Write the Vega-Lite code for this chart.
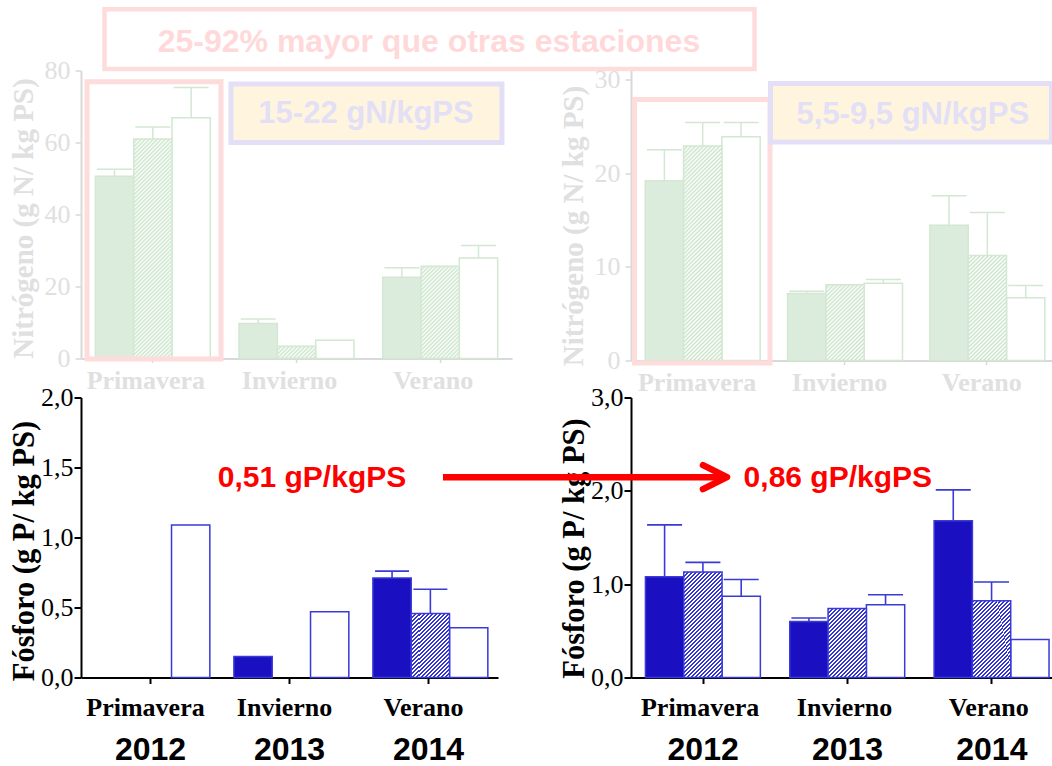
{
  "$schema": "https://vega.github.io/schema/vega-lite/v6.json",
  "autosize": {"type": "pad"},
  "padding": {"left": 8, "top": 6.5, "right": 0, "bottom": 10},
  "background": "#ffffff",
  "columns": 2,
  "align": "all",
  "bounds": "flush",
  "spacing": {"row": 37, "column": 117},
  "config": {
    "view": {"stroke": null},
    "axis": {"grid": false, "labelFont": "Liberation Serif", "labelFontSize": 26, "titleFont": "Liberation Serif", "titleFontSize": 29, "titleFontWeight": "bold"}
  },
  "params": [
    {"name": "hatchN", "value": [
      {"offset":0,"color":"#c9e3c9"},{"offset":0.00625,"color":"#ffffff"},{"offset":0.0125,"color":"#c9e3c9"},{"offset":0.01875,"color":"#ffffff"},
      {"offset":0.025,"color":"#c9e3c9"},{"offset":0.03125,"color":"#ffffff"},{"offset":0.0375,"color":"#c9e3c9"},{"offset":0.04375,"color":"#ffffff"},
      {"offset":0.05,"color":"#c9e3c9"},{"offset":0.05625,"color":"#ffffff"},{"offset":0.0625,"color":"#c9e3c9"},{"offset":0.06875,"color":"#ffffff"},
      {"offset":0.075,"color":"#c9e3c9"},{"offset":0.08125,"color":"#ffffff"},{"offset":0.0875,"color":"#c9e3c9"},{"offset":0.09375,"color":"#ffffff"},
      {"offset":0.1,"color":"#c9e3c9"},{"offset":0.10625,"color":"#ffffff"},{"offset":0.1125,"color":"#c9e3c9"},{"offset":0.11875,"color":"#ffffff"},
      {"offset":0.125,"color":"#c9e3c9"},{"offset":0.13125,"color":"#ffffff"},{"offset":0.1375,"color":"#c9e3c9"},{"offset":0.14375,"color":"#ffffff"},
      {"offset":0.15,"color":"#c9e3c9"},{"offset":0.15625,"color":"#ffffff"},{"offset":0.1625,"color":"#c9e3c9"},{"offset":0.16875,"color":"#ffffff"},
      {"offset":0.175,"color":"#c9e3c9"},{"offset":0.18125,"color":"#ffffff"},{"offset":0.1875,"color":"#c9e3c9"},{"offset":0.19375,"color":"#ffffff"},
      {"offset":0.2,"color":"#c9e3c9"},{"offset":0.20625,"color":"#ffffff"},{"offset":0.2125,"color":"#c9e3c9"},{"offset":0.21875,"color":"#ffffff"},
      {"offset":0.225,"color":"#c9e3c9"},{"offset":0.23125,"color":"#ffffff"},{"offset":0.2375,"color":"#c9e3c9"},{"offset":0.24375,"color":"#ffffff"},
      {"offset":0.25,"color":"#c9e3c9"},{"offset":0.25625,"color":"#ffffff"},{"offset":0.2625,"color":"#c9e3c9"},{"offset":0.26875,"color":"#ffffff"},
      {"offset":0.275,"color":"#c9e3c9"},{"offset":0.28125,"color":"#ffffff"},{"offset":0.2875,"color":"#c9e3c9"},{"offset":0.29375,"color":"#ffffff"},
      {"offset":0.3,"color":"#c9e3c9"},{"offset":0.30625,"color":"#ffffff"},{"offset":0.3125,"color":"#c9e3c9"},{"offset":0.31875,"color":"#ffffff"},
      {"offset":0.325,"color":"#c9e3c9"},{"offset":0.33125,"color":"#ffffff"},{"offset":0.3375,"color":"#c9e3c9"},{"offset":0.34375,"color":"#ffffff"},
      {"offset":0.35,"color":"#c9e3c9"},{"offset":0.35625,"color":"#ffffff"},{"offset":0.3625,"color":"#c9e3c9"},{"offset":0.36875,"color":"#ffffff"},
      {"offset":0.375,"color":"#c9e3c9"},{"offset":0.38125,"color":"#ffffff"},{"offset":0.3875,"color":"#c9e3c9"},{"offset":0.39375,"color":"#ffffff"},
      {"offset":0.4,"color":"#c9e3c9"},{"offset":0.40625,"color":"#ffffff"},{"offset":0.4125,"color":"#c9e3c9"},{"offset":0.41875,"color":"#ffffff"},
      {"offset":0.425,"color":"#c9e3c9"},{"offset":0.43125,"color":"#ffffff"},{"offset":0.4375,"color":"#c9e3c9"},{"offset":0.44375,"color":"#ffffff"},
      {"offset":0.45,"color":"#c9e3c9"},{"offset":0.45625,"color":"#ffffff"},{"offset":0.4625,"color":"#c9e3c9"},{"offset":0.46875,"color":"#ffffff"},
      {"offset":0.475,"color":"#c9e3c9"},{"offset":0.48125,"color":"#ffffff"},{"offset":0.4875,"color":"#c9e3c9"},{"offset":0.49375,"color":"#ffffff"},
      {"offset":0.5,"color":"#c9e3c9"},{"offset":0.50625,"color":"#ffffff"},{"offset":0.5125,"color":"#c9e3c9"},{"offset":0.51875,"color":"#ffffff"},
      {"offset":0.525,"color":"#c9e3c9"},{"offset":0.53125,"color":"#ffffff"},{"offset":0.5375,"color":"#c9e3c9"},{"offset":0.54375,"color":"#ffffff"},
      {"offset":0.55,"color":"#c9e3c9"},{"offset":0.55625,"color":"#ffffff"},{"offset":0.5625,"color":"#c9e3c9"},{"offset":0.56875,"color":"#ffffff"},
      {"offset":0.575,"color":"#c9e3c9"},{"offset":0.58125,"color":"#ffffff"},{"offset":0.5875,"color":"#c9e3c9"},{"offset":0.59375,"color":"#ffffff"},
      {"offset":0.6,"color":"#c9e3c9"},{"offset":0.60625,"color":"#ffffff"},{"offset":0.6125,"color":"#c9e3c9"},{"offset":0.61875,"color":"#ffffff"},
      {"offset":0.625,"color":"#c9e3c9"},{"offset":0.63125,"color":"#ffffff"},{"offset":0.6375,"color":"#c9e3c9"},{"offset":0.64375,"color":"#ffffff"},
      {"offset":0.65,"color":"#c9e3c9"},{"offset":0.65625,"color":"#ffffff"},{"offset":0.6625,"color":"#c9e3c9"},{"offset":0.66875,"color":"#ffffff"},
      {"offset":0.675,"color":"#c9e3c9"},{"offset":0.68125,"color":"#ffffff"},{"offset":0.6875,"color":"#c9e3c9"},{"offset":0.69375,"color":"#ffffff"},
      {"offset":0.7,"color":"#c9e3c9"},{"offset":0.70625,"color":"#ffffff"},{"offset":0.7125,"color":"#c9e3c9"},{"offset":0.71875,"color":"#ffffff"},
      {"offset":0.725,"color":"#c9e3c9"},{"offset":0.73125,"color":"#ffffff"},{"offset":0.7375,"color":"#c9e3c9"},{"offset":0.74375,"color":"#ffffff"},
      {"offset":0.75,"color":"#c9e3c9"},{"offset":0.75625,"color":"#ffffff"},{"offset":0.7625,"color":"#c9e3c9"},{"offset":0.76875,"color":"#ffffff"},
      {"offset":0.775,"color":"#c9e3c9"},{"offset":0.78125,"color":"#ffffff"},{"offset":0.7875,"color":"#c9e3c9"},{"offset":0.79375,"color":"#ffffff"},
      {"offset":0.8,"color":"#c9e3c9"},{"offset":0.80625,"color":"#ffffff"},{"offset":0.8125,"color":"#c9e3c9"},{"offset":0.81875,"color":"#ffffff"},
      {"offset":0.825,"color":"#c9e3c9"},{"offset":0.83125,"color":"#ffffff"},{"offset":0.8375,"color":"#c9e3c9"},{"offset":0.84375,"color":"#ffffff"},
      {"offset":0.85,"color":"#c9e3c9"},{"offset":0.85625,"color":"#ffffff"},{"offset":0.8625,"color":"#c9e3c9"},{"offset":0.86875,"color":"#ffffff"},
      {"offset":0.875,"color":"#c9e3c9"},{"offset":0.88125,"color":"#ffffff"},{"offset":0.8875,"color":"#c9e3c9"},{"offset":0.89375,"color":"#ffffff"},
      {"offset":0.9,"color":"#c9e3c9"},{"offset":0.90625,"color":"#ffffff"},{"offset":0.9125,"color":"#c9e3c9"},{"offset":0.91875,"color":"#ffffff"},
      {"offset":0.925,"color":"#c9e3c9"},{"offset":0.93125,"color":"#ffffff"},{"offset":0.9375,"color":"#c9e3c9"},{"offset":0.94375,"color":"#ffffff"},
      {"offset":0.95,"color":"#c9e3c9"},{"offset":0.95625,"color":"#ffffff"},{"offset":0.9625,"color":"#c9e3c9"},{"offset":0.96875,"color":"#ffffff"},
      {"offset":0.975,"color":"#c9e3c9"},{"offset":0.98125,"color":"#ffffff"},{"offset":0.9875,"color":"#c9e3c9"},{"offset":0.99375,"color":"#ffffff"},
      {"offset":1,"color":"#c9e3c9"}
    ]},
    {"name": "hatchP", "value": [
      {"offset":0,"color":"#3434d2"},{"offset":0.0125,"color":"#3434d2"},{"offset":0.0125,"color":"#ffffff"},{"offset":0.025,"color":"#ffffff"},
      {"offset":0.025,"color":"#3434d2"},{"offset":0.0375,"color":"#3434d2"},{"offset":0.0375,"color":"#ffffff"},{"offset":0.05,"color":"#ffffff"},
      {"offset":0.05,"color":"#3434d2"},{"offset":0.0625,"color":"#3434d2"},{"offset":0.0625,"color":"#ffffff"},{"offset":0.075,"color":"#ffffff"},
      {"offset":0.075,"color":"#3434d2"},{"offset":0.0875,"color":"#3434d2"},{"offset":0.0875,"color":"#ffffff"},{"offset":0.1,"color":"#ffffff"},
      {"offset":0.1,"color":"#3434d2"},{"offset":0.1125,"color":"#3434d2"},{"offset":0.1125,"color":"#ffffff"},{"offset":0.125,"color":"#ffffff"},
      {"offset":0.125,"color":"#3434d2"},{"offset":0.1375,"color":"#3434d2"},{"offset":0.1375,"color":"#ffffff"},{"offset":0.15,"color":"#ffffff"},
      {"offset":0.15,"color":"#3434d2"},{"offset":0.1625,"color":"#3434d2"},{"offset":0.1625,"color":"#ffffff"},{"offset":0.175,"color":"#ffffff"},
      {"offset":0.175,"color":"#3434d2"},{"offset":0.1875,"color":"#3434d2"},{"offset":0.1875,"color":"#ffffff"},{"offset":0.2,"color":"#ffffff"},
      {"offset":0.2,"color":"#3434d2"},{"offset":0.2125,"color":"#3434d2"},{"offset":0.2125,"color":"#ffffff"},{"offset":0.225,"color":"#ffffff"},
      {"offset":0.225,"color":"#3434d2"},{"offset":0.2375,"color":"#3434d2"},{"offset":0.2375,"color":"#ffffff"},{"offset":0.25,"color":"#ffffff"},
      {"offset":0.25,"color":"#3434d2"},{"offset":0.2625,"color":"#3434d2"},{"offset":0.2625,"color":"#ffffff"},{"offset":0.275,"color":"#ffffff"},
      {"offset":0.275,"color":"#3434d2"},{"offset":0.2875,"color":"#3434d2"},{"offset":0.2875,"color":"#ffffff"},{"offset":0.3,"color":"#ffffff"},
      {"offset":0.3,"color":"#3434d2"},{"offset":0.3125,"color":"#3434d2"},{"offset":0.3125,"color":"#ffffff"},{"offset":0.325,"color":"#ffffff"},
      {"offset":0.325,"color":"#3434d2"},{"offset":0.3375,"color":"#3434d2"},{"offset":0.3375,"color":"#ffffff"},{"offset":0.35,"color":"#ffffff"},
      {"offset":0.35,"color":"#3434d2"},{"offset":0.3625,"color":"#3434d2"},{"offset":0.3625,"color":"#ffffff"},{"offset":0.375,"color":"#ffffff"},
      {"offset":0.375,"color":"#3434d2"},{"offset":0.3875,"color":"#3434d2"},{"offset":0.3875,"color":"#ffffff"},{"offset":0.4,"color":"#ffffff"},
      {"offset":0.4,"color":"#3434d2"},{"offset":0.4125,"color":"#3434d2"},{"offset":0.4125,"color":"#ffffff"},{"offset":0.425,"color":"#ffffff"},
      {"offset":0.425,"color":"#3434d2"},{"offset":0.4375,"color":"#3434d2"},{"offset":0.4375,"color":"#ffffff"},{"offset":0.45,"color":"#ffffff"},
      {"offset":0.45,"color":"#3434d2"},{"offset":0.4625,"color":"#3434d2"},{"offset":0.4625,"color":"#ffffff"},{"offset":0.475,"color":"#ffffff"},
      {"offset":0.475,"color":"#3434d2"},{"offset":0.4875,"color":"#3434d2"},{"offset":0.4875,"color":"#ffffff"},{"offset":0.5,"color":"#ffffff"},
      {"offset":0.5,"color":"#3434d2"},{"offset":0.5125,"color":"#3434d2"},{"offset":0.5125,"color":"#ffffff"},{"offset":0.525,"color":"#ffffff"},
      {"offset":0.525,"color":"#3434d2"},{"offset":0.5375,"color":"#3434d2"},{"offset":0.5375,"color":"#ffffff"},{"offset":0.55,"color":"#ffffff"},
      {"offset":0.55,"color":"#3434d2"},{"offset":0.5625,"color":"#3434d2"},{"offset":0.5625,"color":"#ffffff"},{"offset":0.575,"color":"#ffffff"},
      {"offset":0.575,"color":"#3434d2"},{"offset":0.5875,"color":"#3434d2"},{"offset":0.5875,"color":"#ffffff"},{"offset":0.6,"color":"#ffffff"},
      {"offset":0.6,"color":"#3434d2"},{"offset":0.6125,"color":"#3434d2"},{"offset":0.6125,"color":"#ffffff"},{"offset":0.625,"color":"#ffffff"},
      {"offset":0.625,"color":"#3434d2"},{"offset":0.6375,"color":"#3434d2"},{"offset":0.6375,"color":"#ffffff"},{"offset":0.65,"color":"#ffffff"},
      {"offset":0.65,"color":"#3434d2"},{"offset":0.6625,"color":"#3434d2"},{"offset":0.6625,"color":"#ffffff"},{"offset":0.675,"color":"#ffffff"},
      {"offset":0.675,"color":"#3434d2"},{"offset":0.6875,"color":"#3434d2"},{"offset":0.6875,"color":"#ffffff"},{"offset":0.7,"color":"#ffffff"},
      {"offset":0.7,"color":"#3434d2"},{"offset":0.7125,"color":"#3434d2"},{"offset":0.7125,"color":"#ffffff"},{"offset":0.725,"color":"#ffffff"},
      {"offset":0.725,"color":"#3434d2"},{"offset":0.7375,"color":"#3434d2"},{"offset":0.7375,"color":"#ffffff"},{"offset":0.75,"color":"#ffffff"},
      {"offset":0.75,"color":"#3434d2"},{"offset":0.7625,"color":"#3434d2"},{"offset":0.7625,"color":"#ffffff"},{"offset":0.775,"color":"#ffffff"},
      {"offset":0.775,"color":"#3434d2"},{"offset":0.7875,"color":"#3434d2"},{"offset":0.7875,"color":"#ffffff"},{"offset":0.8,"color":"#ffffff"},
      {"offset":0.8,"color":"#3434d2"},{"offset":0.8125,"color":"#3434d2"},{"offset":0.8125,"color":"#ffffff"},{"offset":0.825,"color":"#ffffff"},
      {"offset":0.825,"color":"#3434d2"},{"offset":0.8375,"color":"#3434d2"},{"offset":0.8375,"color":"#ffffff"},{"offset":0.85,"color":"#ffffff"},
      {"offset":0.85,"color":"#3434d2"},{"offset":0.8625,"color":"#3434d2"},{"offset":0.8625,"color":"#ffffff"},{"offset":0.875,"color":"#ffffff"},
      {"offset":0.875,"color":"#3434d2"},{"offset":0.8875,"color":"#3434d2"},{"offset":0.8875,"color":"#ffffff"},{"offset":0.9,"color":"#ffffff"},
      {"offset":0.9,"color":"#3434d2"},{"offset":0.9125,"color":"#3434d2"},{"offset":0.9125,"color":"#ffffff"},{"offset":0.925,"color":"#ffffff"},
      {"offset":0.925,"color":"#3434d2"},{"offset":0.9375,"color":"#3434d2"},{"offset":0.9375,"color":"#ffffff"},{"offset":0.95,"color":"#ffffff"},
      {"offset":0.95,"color":"#3434d2"},{"offset":0.9625,"color":"#3434d2"},{"offset":0.9625,"color":"#ffffff"},{"offset":0.975,"color":"#ffffff"},
      {"offset":0.975,"color":"#3434d2"},{"offset":0.9875,"color":"#3434d2"},{"offset":0.9875,"color":"#ffffff"},{"offset":1,"color":"#ffffff"}
    ]}
  ],
  "datasets": {
    "n1": [
      {"season": "Primavera", "trt": "T1", "value": 50.6, "err": 52.6},
      {"season": "Primavera", "trt": "T2", "value": 61.0, "err": 64.3},
      {"season": "Primavera", "trt": "T3", "value": 66.9, "err": 75.3},
      {"season": "Invierno", "trt": "T1", "value": 9.7, "err": 11.0},
      {"season": "Invierno", "trt": "T2", "value": 3.4, "err": null},
      {"season": "Invierno", "trt": "T3", "value": 5.1, "err": null},
      {"season": "Verano", "trt": "T1", "value": 22.6, "err": 25.2},
      {"season": "Verano", "trt": "T2", "value": 25.6, "err": null},
      {"season": "Verano", "trt": "T3", "value": 27.9, "err": 31.4}
    ],
    "n2": [
      {"season": "Primavera", "trt": "T1", "value": 19.2, "err": 22.5},
      {"season": "Primavera", "trt": "T2", "value": 22.9, "err": 25.4},
      {"season": "Primavera", "trt": "T3", "value": 23.9, "err": 25.4},
      {"season": "Invierno", "trt": "T1", "value": 7.15, "err": 7.4},
      {"season": "Invierno", "trt": "T2", "value": 8.1, "err": null},
      {"season": "Invierno", "trt": "T3", "value": 8.25, "err": 8.65},
      {"season": "Verano", "trt": "T1", "value": 14.45, "err": 17.6},
      {"season": "Verano", "trt": "T2", "value": 11.2, "err": 15.8},
      {"season": "Verano", "trt": "T3", "value": 6.7, "err": 8.0}
    ],
    "p1": [
      {"season": "Primavera", "trt": "T1", "value": null, "err": null},
      {"season": "Primavera", "trt": "T2", "value": null, "err": null},
      {"season": "Primavera", "trt": "T3", "value": 1.09, "err": null},
      {"season": "Invierno", "trt": "T1", "value": 0.15, "err": null},
      {"season": "Invierno", "trt": "T2", "value": null, "err": null},
      {"season": "Invierno", "trt": "T3", "value": 0.47, "err": null},
      {"season": "Verano", "trt": "T1", "value": 0.71, "err": 0.76},
      {"season": "Verano", "trt": "T2", "value": 0.457, "err": 0.63},
      {"season": "Verano", "trt": "T3", "value": 0.355, "err": null}
    ],
    "p2": [
      {"season": "Primavera", "trt": "T1", "value": 1.08, "err": 1.635},
      {"season": "Primavera", "trt": "T2", "value": 1.13, "err": 1.233},
      {"season": "Primavera", "trt": "T3", "value": 0.87, "err": 1.05},
      {"season": "Invierno", "trt": "T1", "value": 0.6, "err": 0.638},
      {"season": "Invierno", "trt": "T2", "value": 0.74, "err": null},
      {"season": "Invierno", "trt": "T3", "value": 0.78, "err": 0.887},
      {"season": "Verano", "trt": "T1", "value": 1.68, "err": 2.01},
      {"season": "Verano", "trt": "T2", "value": 0.823, "err": 1.023},
      {"season": "Verano", "trt": "T3", "value": 0.406, "err": null}
    ],
    "years": [
      {"season": "Primavera", "year": "2012"},
      {"season": "Invierno", "year": "2013"},
      {"season": "Verano", "year": "2014"}
    ]
  },
  "concat": [
    {
      "width": 431,
      "height": 288,
      "data": {"name": "n1"},
      "resolve": {"scale": {"x": "independent"}},
      "layer": [
        {
          "encoding": {
            "x": {"field": "season", "type": "nominal", "scale": {"domain": ["Primavera", "Invierno", "Verano"], "paddingInner": 0.2, "paddingOuter": 0.1},
                  "axis": {"title": null, "labelAngle": 0, "labelFont": "Liberation Serif", "labelFontWeight": "bold", "labelColor": "#e0e0e0", "domainColor": "#d9d9d9", "domainWidth": 2, "tickColor": "#d9d9d9", "tickWidth": 1.5, "tickSize": 4, "labelPadding": 5, "labelOffset": -7}},
            "xOffset": {"field": "trt", "type": "nominal", "scale": {"domain": ["T1", "T2", "T3"], "paddingInner": 0, "paddingOuter": 0}},
            "y": {"field": "value", "type": "quantitative", "scale": {"domain": [0, 80], "nice": false},
                  "axis": {"title": "Nitrógeno (g N/ kg PS)", "titleFont": "Liberation Serif", "titleFontSize": 29, "titleFontWeight": "bold", "titleY": 147.5, "values": [0, 20, 40, 60, 80], "labelFont": "Liberation Serif", "labelColor": "#e0e0e0", "titleColor": "#e0e0e0", "domainColor": "#d9d9d9", "domainWidth": 2, "tickColor": "#d9d9d9", "tickWidth": 1.5, "tickSize": 6, "labelPadding": 5, "titlePadding": 6}}
          },
          "layer": [
            {"transform": [{"filter": "datum.trt === 'T1'"}], "mark": {"type": "bar", "fill": "#dcecdc", "stroke": "#d2e8d2", "strokeWidth": 1.5}},
            {"transform": [{"filter": "datum.trt === 'T3'"}], "mark": {"type": "bar", "fill": "#ffffff", "stroke": "#d2e8d2", "strokeWidth": 1.5}},
            {"transform": [{"filter": "datum.trt === 'T2' && datum.season === 'Primavera'"}], "mark": {"type": "bar", "stroke": "#d2e8d2", "strokeWidth": 1.5, "fill": {"expr": "{gradient: 'linear', x1: 0, y1: 0, x2: 0.2469, y2: 1.415, stops: hatchN}"}}},
            {"transform": [{"filter": "datum.trt === 'T2' && datum.season === 'Invierno'"}], "mark": {"type": "bar", "stroke": "#d2e8d2", "strokeWidth": 1.5, "fill": {"expr": "{gradient: 'linear', x1: 0, y1: 0, x2: 7.584, y2: 2.423, stops: hatchN}"}}},
            {"transform": [{"filter": "datum.trt === 'T2' && datum.season === 'Verano'"}], "mark": {"type": "bar", "stroke": "#d2e8d2", "strokeWidth": 1.5, "fill": {"expr": "{gradient: 'linear', x1: 0, y1: 0, x2: 1.2315, y2: 2.9625, stops: hatchN}"}}},
            {"transform": [{"filter": "isValid(datum.err)"}], "mark": {"type": "rule", "stroke": "#d2e8d2", "strokeWidth": 1.5}, "encoding": {"y2": {"field": "err"}}},
            {"transform": [{"filter": "isValid(datum.err)"}], "mark": {"type": "tick", "orient": "horizontal", "color": "#d2e8d2", "opacity": 1, "thickness": 1.5, "size": 35}, "encoding": {"y": {"field": "err", "type": "quantitative"}}}
          ]
        },
        {
          "data": {"values": [{}]},
          "layer": [
            {"mark": {"type": "rect", "fill": "transparent", "stroke": "#ffdcdc", "strokeWidth": 4.5},
             "encoding": {"x": {"datum": 0.1636, "type": "quantitative", "scale": {"domain": [0, 3], "nice": false, "zero": false}, "axis": null}, "x2": {"datum": 4.688}, "y": {"datum": 97.0, "type": "quantitative"}, "y2": {"datum": 80.42}}},
            {"mark": {"type": "text", "text": "25-92% mayor que otras estaciones", "font": "Liberation Sans", "fontSize": 32, "fontWeight": "bold", "color": "#ffd9d9", "align": "center", "baseline": "alphabetic"},
             "encoding": {"x": {"datum": 2.422, "type": "quantitative", "scale": {"domain": [0, 3], "nice": false, "zero": false}, "axis": null}, "y": {"datum": 85.08, "type": "quantitative"}}},
            {"mark": {"type": "rect", "fill": "transparent", "stroke": "#ffdcdc", "strokeWidth": 5},
             "encoding": {"x": {"datum": 0.0418, "type": "quantitative", "scale": {"domain": [0, 3], "nice": false, "zero": false}, "axis": null}, "x2": {"datum": 0.9745}, "y": {"datum": 76.9, "type": "quantitative"}, "y2": {"datum": -0.14}}},
            {"mark": {"type": "rect", "fill": "#fff5de", "stroke": "#e2dff6", "strokeWidth": 5},
             "encoding": {"x": {"datum": 1.044, "type": "quantitative", "scale": {"domain": [0, 3], "nice": false, "zero": false}, "axis": null}, "x2": {"datum": 2.93}, "y": {"datum": 76.25, "type": "quantitative"}, "y2": {"datum": 60.0}}},
            {"mark": {"type": "text", "text": "15-22 gN/kgPS", "font": "Liberation Sans", "fontSize": 31, "fontWeight": "bold", "color": "#e2dff6", "align": "center", "baseline": "alphabetic"},
             "encoding": {"x": {"datum": 1.984, "type": "quantitative", "scale": {"domain": [0, 3], "nice": false, "zero": false}, "axis": null}, "y": {"datum": 65.36, "type": "quantitative"}}}
          ]
        }
      ]
    },
    {
      "width": 427,
      "height": 290,
      "data": {"name": "n2"},
      "resolve": {"scale": {"x": "independent"}},
      "layer": [
        {
          "encoding": {
            "x": {"field": "season", "type": "nominal", "scale": {"domain": ["Primavera", "Invierno", "Verano"], "paddingInner": 0.2, "paddingOuter": 0.1},
                  "axis": {"title": null, "labelAngle": 0, "labelFont": "Liberation Serif", "labelFontWeight": "bold", "labelColor": "#e0e0e0", "domainColor": "#d9d9d9", "domainWidth": 2, "tickColor": "#d9d9d9", "tickWidth": 1.5, "tickSize": 4, "labelPadding": 5, "labelOffset": -5}},
            "xOffset": {"field": "trt", "type": "nominal", "scale": {"domain": ["T1", "T2", "T3"], "paddingInner": 0, "paddingOuter": 0}},
            "y": {"field": "value", "type": "quantitative", "scale": {"domain": [0, 30.96], "nice": false},
                  "axis": {"title": "Nitrógeno (g N/ kg PS)", "titleFont": "Liberation Serif", "titleFontSize": 29, "titleFontWeight": "bold", "titleY": 155, "values": [0, 10, 20, 30], "labelFont": "Liberation Serif", "labelColor": "#e0e0e0", "titleColor": "#e0e0e0", "domainColor": "#d9d9d9", "domainWidth": 2, "tickColor": "#d9d9d9", "tickWidth": 1.5, "tickSize": 6, "labelPadding": 5, "titlePadding": 6}}
          },
          "layer": [
            {"transform": [{"filter": "datum.trt === 'T1'"}], "mark": {"type": "bar", "fill": "#dcecdc", "stroke": "#d2e8d2", "strokeWidth": 1.5}},
            {"transform": [{"filter": "datum.trt === 'T3'"}], "mark": {"type": "bar", "fill": "#ffffff", "stroke": "#d2e8d2", "strokeWidth": 1.5}},
            {"transform": [{"filter": "datum.trt === 'T2' && datum.season === 'Primavera'"}], "mark": {"type": "bar", "stroke": "#d2e8d2", "strokeWidth": 1.5, "fill": {"expr": "{gradient: 'linear', x1: 0, y1: 0, x2: 0.2566, y2: 1.4487, stops: hatchN}"}}},
            {"transform": [{"filter": "datum.trt === 'T2' && datum.season === 'Invierno'"}], "mark": {"type": "bar", "stroke": "#d2e8d2", "strokeWidth": 1.5, "fill": {"expr": "{gradient: 'linear', x1: 0, y1: 0, x2: 1.6949, y2: 3.38, stops: hatchN}"}}},
            {"transform": [{"filter": "datum.trt === 'T2' && datum.season === 'Verano'"}], "mark": {"type": "bar", "stroke": "#d2e8d2", "strokeWidth": 1.5, "fill": {"expr": "{gradient: 'linear', x1: 0, y1: 0, x2: 0.975, y2: 2.697, stops: hatchN}"}}},
            {"transform": [{"filter": "isValid(datum.err)"}], "mark": {"type": "rule", "stroke": "#d2e8d2", "strokeWidth": 1.5}, "encoding": {"y2": {"field": "err"}}},
            {"transform": [{"filter": "isValid(datum.err)"}], "mark": {"type": "tick", "orient": "horizontal", "color": "#d2e8d2", "opacity": 1, "thickness": 1.5, "size": 35}, "encoding": {"y": {"field": "err", "type": "quantitative"}}}
          ]
        },
        {
          "data": {"values": [{}]},
          "layer": [
            {"mark": {"type": "rect", "fill": "transparent", "stroke": "#ffdcdc", "strokeWidth": 5},
             "encoding": {"x": {"datum": 0.0246, "type": "quantitative", "scale": {"domain": [0, 3], "nice": false, "zero": false}, "axis": null}, "x2": {"datum": 0.9766}, "y": {"datum": 27.86, "type": "quantitative"}, "y2": {"datum": -0.27}}},
            {"mark": {"type": "rect", "fill": "#fff5de", "stroke": "#e2dff6", "strokeWidth": 5},
             "encoding": {"x": {"datum": 0.98, "type": "quantitative", "scale": {"domain": [0, 3], "nice": false, "zero": false}, "axis": null}, "x2": {"datum": 2.954}, "y": {"datum": 29.57, "type": "quantitative"}, "y2": {"datum": 23.33}}},
            {"mark": {"type": "text", "text": "5,5-9,5 gN/kgPS", "font": "Liberation Sans", "fontSize": 31, "fontWeight": "bold", "color": "#e2dff6", "align": "center", "baseline": "alphabetic"},
             "encoding": {"x": {"datum": 1.98, "type": "quantitative", "scale": {"domain": [0, 3], "nice": false, "zero": false}, "axis": null}, "y": {"datum": 25.27, "type": "quantitative"}}}
          ]
        }
      ]
    },
    {
      "width": 417,
      "height": 280,
      "data": {"name": "p1"},
      "resolve": {"scale": {"x": "independent"}},
      "layer": [
        {
          "encoding": {
            "x": {"field": "season", "type": "nominal", "scale": {"domain": ["Primavera", "Invierno", "Verano"], "paddingInner": 0.2, "paddingOuter": 0.1},
                  "axis": {"title": null, "labelAngle": 0, "labelFont": "Liberation Serif", "labelFontWeight": "bold", "labelColor": "#000000", "domainColor": "#000000", "domainWidth": 2, "tickColor": "#000000", "tickWidth": 2, "tickSize": 6, "labelPadding": 11, "labelOffset": -5}},
            "xOffset": {"field": "trt", "type": "nominal", "scale": {"domain": ["T1", "T2", "T3"], "paddingInner": 0, "paddingOuter": 0}},
            "y": {"field": "value", "type": "quantitative", "scale": {"domain": [0, 2], "nice": false},
                  "axis": {"title": "Fósforo (g P/ kg PS)", "titleFont": "Liberation Serif", "titleFontSize": 30.5, "titleFontWeight": "bold", "titleY": 153, "values": [0, 0.5, 1, 1.5, 2], "labelExpr": "replace(format(datum.value, '.1f'), '.', ',')", "labelFont": "Liberation Serif", "labelColor": "#000000", "titleColor": "#000000", "domainColor": "#000000", "domainWidth": 2, "tickColor": "#000000", "tickWidth": 2, "tickSize": 7, "labelPadding": 1, "titlePadding": 1}}
          },
          "layer": [
            {"transform": [{"filter": "datum.trt === 'T1'"}], "mark": {"type": "bar", "fill": "#1a10c2", "stroke": "#3a3ad6", "strokeWidth": 1.5}},
            {"transform": [{"filter": "datum.trt === 'T3'"}], "mark": {"type": "bar", "fill": "#ffffff", "stroke": "#3a3ad6", "strokeWidth": 1.5}},
            {"transform": [{"filter": "datum.trt === 'T2' && datum.season === 'Verano'"}], "mark": {"type": "bar", "stroke": "#3a3ad6", "strokeWidth": 1.5, "fill": {"expr": "{gradient: 'linear', x1: 0, y1: 0, x2: 1.085, y2: 1.8731, stops: hatchP}"}}},
            {"transform": [{"filter": "isValid(datum.err)"}], "mark": {"type": "rule", "stroke": "#3a3ad6", "strokeWidth": 1.6}, "encoding": {"y2": {"field": "err"}}},
            {"transform": [{"filter": "isValid(datum.err)"}], "mark": {"type": "tick", "orient": "horizontal", "color": "#3a3ad6", "opacity": 1, "thickness": 1.6, "size": 34}, "encoding": {"y": {"field": "err", "type": "quantitative"}}}
          ]
        },
        {
          "data": {"name": "years"},
          "mark": {"type": "text", "font": "Liberation Sans", "fontSize": 32, "fontWeight": "bold", "color": "#000000", "align": "center", "baseline": "alphabetic"},
          "encoding": {
            "x": {"field": "season", "type": "nominal", "scale": {"domain": ["Primavera", "Invierno", "Verano"], "paddingInner": 0.2, "paddingOuter": 0.1}, "axis": null},
            "y": {"datum": -0.586, "type": "quantitative"},
            "text": {"field": "year"}
          }
        },
        {
          "data": {"values": [{}]},
          "layer": [
            {"mark": {"type": "text", "text": "0,51 gP/kgPS", "font": "Liberation Sans", "fontSize": 30, "fontWeight": "bold", "color": "#ff0000", "align": "center", "baseline": "alphabetic"},
             "encoding": {"x": {"datum": 1.662, "type": "quantitative", "scale": {"domain": [0, 3], "nice": false, "zero": false}, "axis": null}, "y": {"datum": 1.359, "type": "quantitative"}}}
          ]
        }
      ]
    },
    {
      "width": 433,
      "height": 280,
      "data": {"name": "p2"},
      "resolve": {"scale": {"x": "independent"}},
      "layer": [
        {
          "encoding": {
            "x": {"field": "season", "type": "nominal", "scale": {"domain": ["Primavera", "Invierno", "Verano"], "paddingInner": 0.2, "paddingOuter": 0.1},
                  "axis": {"title": null, "labelAngle": 0, "labelFont": "Liberation Serif", "labelFontWeight": "bold", "labelColor": "#000000", "domainColor": "#000000", "domainWidth": 2, "tickColor": "#000000", "tickWidth": 2, "tickSize": 6, "labelPadding": 11, "labelOffset": -3}},
            "xOffset": {"field": "trt", "type": "nominal", "scale": {"domain": ["T1", "T2", "T3"], "paddingInner": 0, "paddingOuter": 0}},
            "y": {"field": "value", "type": "quantitative", "scale": {"domain": [0, 3], "nice": false},
                  "axis": {"title": "Fósforo (g P/ kg PS)", "titleFont": "Liberation Serif", "titleFontSize": 30.5, "titleFontWeight": "bold", "titleY": 150.5, "values": [0, 1, 2, 3], "labelExpr": "replace(format(datum.value, '.1f'), '.', ',')", "labelFont": "Liberation Serif", "labelColor": "#000000", "titleColor": "#000000", "domainColor": "#000000", "domainWidth": 2, "tickColor": "#000000", "tickWidth": 2, "tickSize": 7, "labelPadding": 1, "titlePadding": 1}}
          },
          "layer": [
            {"transform": [{"filter": "datum.trt === 'T1'"}], "mark": {"type": "bar", "fill": "#1a10c2", "stroke": "#3a3ad6", "strokeWidth": 1.5}},
            {"transform": [{"filter": "datum.trt === 'T3'"}], "mark": {"type": "bar", "fill": "#ffffff", "stroke": "#3a3ad6", "strokeWidth": 1.5}},
            {"transform": [{"filter": "datum.trt === 'T2' && datum.season === 'Primavera'"}], "mark": {"type": "bar", "stroke": "#3a3ad6", "strokeWidth": 1.5, "fill": {"expr": "{gradient: 'linear', x1: 0, y1: 0, x2: 0.4886, y2: 1.3393, stops: hatchP}"}}},
            {"transform": [{"filter": "datum.trt === 'T2' && datum.season === 'Invierno'"}], "mark": {"type": "bar", "stroke": "#3a3ad6", "strokeWidth": 1.5, "fill": {"expr": "{gradient: 'linear', x1: 0, y1: 0, x2: 0.985, y2: 1.7683, stops: hatchP}"}}},
            {"transform": [{"filter": "datum.trt === 'T2' && datum.season === 'Verano'"}], "mark": {"type": "bar", "stroke": "#3a3ad6", "strokeWidth": 1.5, "fill": {"expr": "{gradient: 'linear', x1: 0, y1: 0, x2: 0.835, y2: 1.6662, stops: hatchP}"}}},
            {"transform": [{"filter": "isValid(datum.err)"}], "mark": {"type": "rule", "stroke": "#3a3ad6", "strokeWidth": 1.6}, "encoding": {"y2": {"field": "err"}}},
            {"transform": [{"filter": "isValid(datum.err)"}], "mark": {"type": "tick", "orient": "horizontal", "color": "#3a3ad6", "opacity": 1, "thickness": 1.6, "size": 35}, "encoding": {"y": {"field": "err", "type": "quantitative"}}}
          ]
        },
        {
          "data": {"name": "years"},
          "mark": {"type": "text", "font": "Liberation Sans", "fontSize": 32, "fontWeight": "bold", "color": "#000000", "align": "center", "baseline": "alphabetic"},
          "encoding": {
            "x": {"field": "season", "type": "nominal", "scale": {"domain": ["Primavera", "Invierno", "Verano"], "paddingInner": 0.2, "paddingOuter": 0.1}, "axis": null},
            "y": {"datum": -0.879, "type": "quantitative"},
            "text": {"field": "year"}
          }
        },
        {
          "data": {"values": [{}]},
          "layer": [
            {"mark": {"type": "rule", "stroke": "#ff0000", "strokeWidth": 6.5},
             "encoding": {"x": {"datum": -1.3026, "type": "quantitative", "scale": {"domain": [0, 3], "nice": false, "zero": false}, "axis": null}, "x2": {"datum": 0.6582}, "y": {"datum": 2.146, "type": "quantitative"}}},
            {"mark": {"type": "point", "shape": "M-2,-1L0,0L-2,1", "size": 576, "filled": false, "opacity": 1, "stroke": "#ff0000", "strokeWidth": 6.5, "strokeJoin": "round", "strokeCap": "round"},
             "encoding": {"x": {"datum": 0.665, "type": "quantitative", "scale": {"domain": [0, 3], "nice": false, "zero": false}, "axis": null}, "y": {"datum": 2.146, "type": "quantitative"}}},
            {"mark": {"type": "text", "text": "0,86 gP/kgPS", "font": "Liberation Sans", "fontSize": 30, "fontWeight": "bold", "color": "#ff0000", "align": "center", "baseline": "alphabetic"},
             "encoding": {"x": {"datum": 1.433, "type": "quantitative", "scale": {"domain": [0, 3], "nice": false, "zero": false}, "axis": null}, "y": {"datum": 2.039, "type": "quantitative"}}}
          ]
        }
      ]
    }
  ]
}
